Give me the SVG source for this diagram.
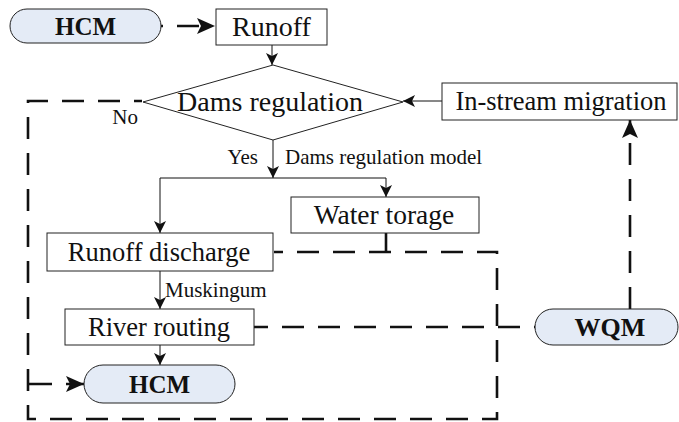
<svg xmlns="http://www.w3.org/2000/svg" width="679" height="422" viewBox="0 0 679 422">
<defs>
<style>
.box{fill:#fff;stroke:#222;stroke-width:1}
.term{fill:#e4ebf6;stroke:#222;stroke-width:1}
text{font-family:'Liberation Serif','DejaVu Serif',Tinos,serif;fill:#111}
.t{font-size:26.5px;text-anchor:middle}
.tb{font-size:25px;font-weight:bold;text-anchor:middle}
.s{font-size:21px}
.solid{fill:none;stroke:#111;stroke-width:1}
.dash{fill:none;stroke:#111;stroke-width:2.6;stroke-dasharray:22 14}
</style>
<marker id="a" markerUnits="userSpaceOnUse" markerWidth="12" markerHeight="12" refX="12" refY="6" orient="auto">
<path d="M0,0 L12,6 L0,12 L3,6 z" fill="#111"/>
</marker>
<marker id="ab" markerUnits="userSpaceOnUse" markerWidth="18" markerHeight="16" refX="18" refY="8" orient="auto">
<path d="M0,0 L18,8 L0,16 L4,8 z" fill="#111"/>
</marker>
</defs>
<g id="connectors">
<path class="solid" d="M272 45 V65" marker-end="url(#a)"/>
<path class="solid" d="M442 101 H403" marker-end="url(#a)"/>
<path class="solid" d="M273 140 V178" marker-end="url(#a)"/>
<path class="solid" d="M160 178 H386"/>
<path class="solid" d="M160 178 V233" marker-end="url(#a)"/>
<path class="solid" d="M386 178 V197" marker-end="url(#a)"/>
<path class="solid" d="M160 271 V309" marker-end="url(#a)"/>
<path class="solid" d="M160 345 V365" marker-end="url(#a)"/>
<path class="dash" d="M161 26 H215" style="stroke-dasharray:2 14 22 20" marker-end="url(#ab)"/>
<path class="dash" d="M142 101 H28 V419 H497 V252 H274" style="stroke-dashoffset:14"/>
<path class="dash" d="M386 233 V252" style="stroke-dasharray:none"/>
<path class="dash" d="M28 384 H84" style="stroke-dasharray:24 14 22" marker-end="url(#ab)"/>
<path class="dash" d="M254 327 H535" style="stroke-dasharray:14 14 22 14 22 14 22 14 22 14 22 14 22 14 22 14"/>
<path class="dash" d="M630 309 V120" marker-end="url(#ab)"/>
</g>
<g id="hcm-top">
<rect class="term" x="10" y="9" width="151" height="34" rx="17" ry="17"/>
<text class="tb" x="85.5" y="35">HCM</text>
</g>
<g id="runoff">
<rect class="box" x="216" y="9" width="111" height="36"/>
<text class="t" x="271.5" y="36" style="font-size:28px">Runoff</text>
</g>
<g id="dams-regulation">
<polygon class="box" points="143,102 273,65 403,102 273,140"/>
<text class="t" x="270" y="111" style="font-size:28px">Dams regulation</text>
</g>
<g id="instream">
<rect class="box" x="442" y="83" width="235" height="37"/>
<text class="t" x="561" y="110">In-stream migration</text>
</g>
<g id="water-torage">
<rect class="box" x="291" y="197" width="188" height="36"/>
<text class="t" x="384" y="224" style="font-size:27.5px">Water torage</text>
</g>
<g id="runoff-discharge">
<rect class="box" x="47" y="233" width="226" height="38"/>
<text class="t" x="159" y="261">Runoff discharge</text>
</g>
<g id="river-routing">
<rect class="box" x="65" y="309" width="189" height="36"/>
<text class="t" x="159" y="336">River routing</text>
</g>
<g id="hcm-bottom">
<rect class="term" x="84" y="365" width="151" height="38" rx="19" ry="19"/>
<text class="tb" x="159.5" y="393">HCM</text>
</g>
<g id="wqm">
<rect class="term" x="535" y="309" width="143" height="36" rx="18" ry="18"/>
<text class="tb" x="610" y="336" style="font-size:26px">WQM</text>
</g>
<g id="labels">
<text class="s" x="138" y="124" text-anchor="end">No</text>
<text class="s" x="258" y="164" text-anchor="end">Yes</text>
<text class="s" x="285" y="164">Dams regulation model</text>
<text class="s" x="165" y="297">Muskingum</text>
</g>
</svg>
